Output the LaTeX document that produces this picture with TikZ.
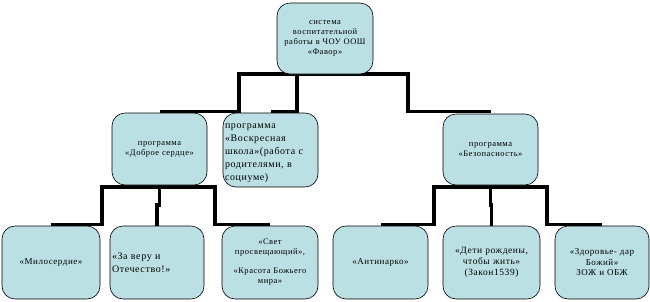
\documentclass[tikz,border=0pt]{standalone}
\usepackage{fontspec}
\setmainfont{Liberation Serif}
\newfontfamily\boxfont[LetterSpace=6]{Liberation Serif}
\usepackage{tikz}

\definecolor{boxfill}{RGB}{187,224,227}

\begin{document}
\begin{tikzpicture}[x=1pt,y=-1pt,
    box/.style={draw=black, line width=0.6pt, fill=boxfill, rounded corners=13pt,
        inner xsep=2pt, inner ysep=0pt, align=center,
        font=\boxfont\fontsize{8.5}{10}\selectfont},
    link/.style={draw=black, line width=3.5pt}]
    \useasboundingbox (0,0) rectangle (650,301);

    % connectors first, boxes on top
    \coordinate (topfoot) at (325,74);
    \coordinate (leftfoot) at (159.5,187);
    \coordinate (rightfoot) at (490.5,187);

    \draw[link] (topfoot) -- ++(-86,0) |- (159.5,111.5);
    \draw[link] (topfoot) -- ++(-28,0) |- (270.5,111.5);
    \draw[link] (topfoot) -- ++(83,0) |- (490.5,111.5);

    \draw[link] (leftfoot) -- ++(-57.5,0) |- (51,224.5);
    \draw[link] (leftfoot) -- ++(0,18) -| (157,226);
    \draw[link] (leftfoot) -- ++(55.5,0) |- (270,224.5);

    \draw[link] (rightfoot) -- ++(-56.5,0) |- (380.5,224.5);
    \draw[link] (rightfoot) -- ++(0,18) -| (491.5,226);
    \draw[link] (rightfoot) -- ++(56.5,0) |- (602,224.5);

    \node[box, text width=92pt, minimum height=71pt] (top) at (325,38.5)
        {система\\воспитательной\\работы в ЧОУ ООШ\\«Фавор»};

    \node[box, text width=91pt, minimum height=72pt] (kind) at (159.5,149)
        {программа\\«Доброе сердце»};
    \node[box, text width=91pt, minimum height=74pt, align=left,
        font=\boxfont\fontsize{10}{13}\selectfont] (sunday) at (270.5,150)
        {\rule{0pt}{12pt}программа\\«Воскресная\\школа»(работа с\\родителями, в\\социуме)};
    \node[box, text width=91pt, minimum height=71pt] (safe) at (490.5,149.5)
        {программа\\«Безопасность»};

    \node[box, text width=94pt, minimum height=73pt,
        font=\boxfont\fontsize{9}{10}\selectfont] (mercy) at (51,262.5)
        {«Милосердие»};
    \node[box, text width=90pt, minimum height=73pt, align=left,
        font=\boxfont\fontsize{10}{13}\selectfont] (faith) at (157,262.5)
        {«За веру и\\Отечество!»};
    \node[box, text width=92pt, minimum height=73pt] (light) at (270,262.5)
        {«Свет\\просвещающий»,\\[9pt]«Красота Божьего\\мира»};

    \node[box, text width=91pt, minimum height=73pt,
        font=\boxfont\fontsize{9}{10}\selectfont] (narco) at (380.5,262.5)
        {«Антинарко»};
    \node[box, text width=93pt, minimum height=73pt,
        font=\boxfont\fontsize{9.5}{11}\selectfont] (born) at (491.5,262.5)
        {«Дети рождены,\\чтобы жить»\\(Закон1539)};
    \node[box, text width=90pt, minimum height=73pt,
        font=\boxfont\fontsize{9}{10.5}\selectfont] (health) at (602,262.5)
        {«Здоровье- дар\\Божий»\\ЗОЖ и ОБЖ};
\end{tikzpicture}
\end{document}
